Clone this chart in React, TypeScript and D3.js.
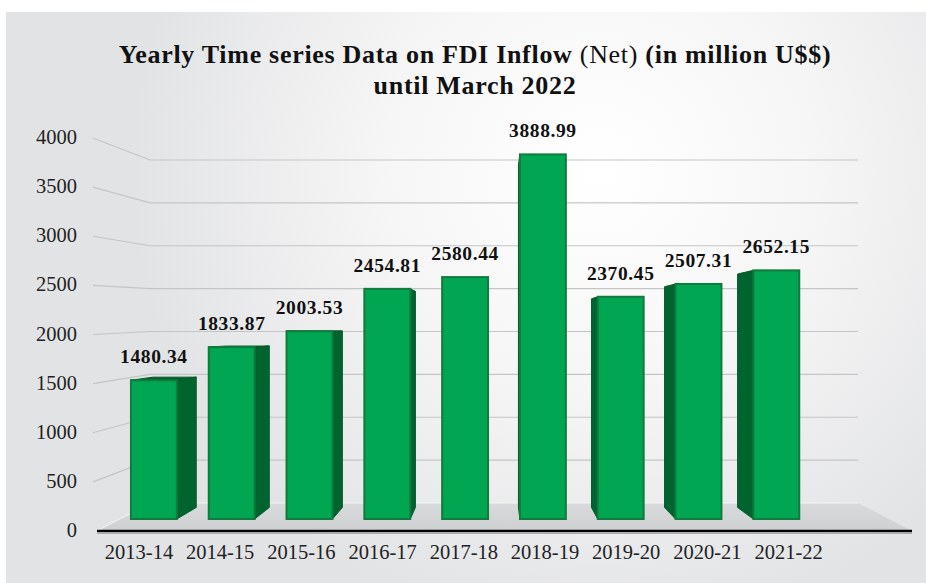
import React from "react";
import * as d3 from "d3";

const categories = ["2013-14", "2014-15", "2015-16", "2016-17", "2017-18", "2018-19", "2019-20", "2020-21", "2021-22"];
const values = [1480.34, 1833.87, 2003.53, 2454.81, 2580.44, 3888.99, 2370.45, 2507.31, 2652.15];
const yTicks = [0, 500, 1000, 1500, 2000, 2500, 3000, 3500, 4000];
const titleLine1Bold1 = "Yearly Time series Data on FDI Inflow ";
const titleLine1Regular = "(Net) ";
const titleLine1Bold2 = "(in million U$$)";
const titleLine2 = "until March 2022";

const W = 926;
const H = 583;
const FONT = "'Liberation Serif', 'Times New Roman', serif";

export default function App() {
  // front plane (axis labels), back wall, and bar front plane
  const yFront = d3.scaleLinear().domain([0, 4000]).range([531, 138]);
  const yBack = d3.scaleLinear().domain([0, 4000]).range([503, 160]);
  const yBar = d3.scaleLinear().domain([0, 4000]).range([519, 144]);
  const xBar = d3.scaleBand<string>().domain(categories).range([115, 815.2]).paddingInner(0.41).paddingOuter(0.205);
  const xLabel = d3.scaleBand<string>().domain(categories).range([98.4, 829.2]);

  const wallLeft = 150;
  const wallRight = 858;
  const axisLeft = 93;
  const V = { x: 495, y: 330 };
  const r = 0.939;
  const back = (x: number, y: number): [number, number] => [V.x + r * (x - V.x), V.y + r * (y - V.y)];
  const poly = (pts: [number, number][]) => pts.map((p) => p.join(",")).join(" ");

  return (
    <svg width={W} height={H} style={{ position: "absolute", left: 0, top: 0 }}>
      <defs>
        <radialGradient id="bg" gradientUnits="userSpaceOnUse" cx={600} cy={170} r={470} fx={600} fy={170}>
          <stop offset="0" stopColor="#ffffff" />
          <stop offset="0.45" stopColor="#f6f6f6" />
          <stop offset="1" stopColor="#e2e3e5" />
        </radialGradient>
        <linearGradient id="floor" x1="0" y1="0" x2="0" y2="1">
          <stop offset="0" stopColor="#d9dadc" />
          <stop offset="1" stopColor="#cfd0d2" />
        </linearGradient>
      </defs>
      <rect x={0} y={0} width={W} height={H} fill="#ffffff" />
      <rect x={6} y={12} width={W - 6} height={H - 12} fill="url(#bg)" />

      {/* title */}
      <text x={475} y={63} textAnchor="middle" fontFamily={FONT} fontSize={26} letterSpacing={0.7} fill="#111">
        <tspan fontWeight="bold">{titleLine1Bold1}</tspan>
        <tspan fontWeight="normal">{titleLine1Regular}</tspan>
        <tspan fontWeight="bold">{titleLine1Bold2}</tspan>
      </text>
      <text x={475} y={94} textAnchor="middle" fontFamily={FONT} fontSize={26} letterSpacing={0.7} fontWeight="bold" fill="#111">
        {titleLine2}
      </text>

      {/* gridlines */}
      {yTicks.filter((t) => t > 0).map((t) => (
        <polyline
          key={"g" + t}
          points={poly([[axisLeft, yFront(t)], [wallLeft, yBack(t)], [wallRight, yBack(t)]])}
          fill="none"
          stroke="#c4c5c7"
          strokeWidth={1.2}
        />
      ))}

      {/* floor */}
      <polygon
        points={poly([[wallLeft, yBack(0)], [wallRight, yBack(0)], [912, yFront(0)], [97, yFront(0)]])}
        fill="url(#floor)"
      />
      <line x1={wallLeft} x2={wallRight} y1={yBack(0)} y2={yBack(0)} stroke="#f4f4f4" strokeWidth={1} />
      <line x1={97} x2={wallLeft} y1={yFront(0)} y2={yBack(0)} stroke="#f4f4f4" strokeWidth={1} />
      <line x1={97} x2={912} y1={yFront(0) + 2.5} y2={yFront(0) + 2.5} stroke="#a9aaac" strokeWidth={1} />
      <line x1={97} x2={912} y1={yFront(0)} y2={yFront(0)} stroke="#000" strokeWidth={2.6} />

      {/* y tick labels */}
      {yTicks.map((t) => (
        <text key={"y" + t} x={77} y={yFront(t) + 6} textAnchor="end" fontFamily={FONT} fontSize={20.5} fill="#222">
          {t}
        </text>
      ))}

      {/* bars */}
      {categories.map((c, i) => {
        const v = values[i];
        const x0 = xBar(c)!;
        const x1 = x0 + xBar.bandwidth();
        const yT = yBar(v);
        const yB = yBar(0);
        const pieces: JSX.Element[] = [];
        if (x1 < V.x) {
          pieces.push(
            <polygon key="s" points={poly([[x1, yT], back(x1, yT), back(x1, yB), [x1, yB]])} fill="#00642f" stroke="#0a5a2c" strokeWidth={1} />
          );
        } else if (x0 > V.x) {
          pieces.push(
            <polygon key="s" points={poly([[x0, yT], back(x0, yT), back(x0, yB), [x0, yB]])} fill="#00642f" stroke="#0a5a2c" strokeWidth={1} />
          );
        }
        if (yT > V.y) {
          pieces.push(
            <polygon key="t" points={poly([[x0, yT], [x1, yT], back(x1, yT), back(x0, yT)])} fill="#005c2b" stroke="#0a5a2c" strokeWidth={1} />
          );
        }
        pieces.push(
          <rect key="f" x={x0} y={yT} width={x1 - x0} height={yB - yT} fill="#00a651" stroke="#117a3e" strokeWidth={2} />
        );
        pieces.push(
          <text
            key="l"
            x={(x0 + x1) / 2}
            y={yT - 17}
            textAnchor="middle"
            fontFamily={FONT}
            fontSize={19.5}
            fontWeight="bold"
            letterSpacing={0.6}
            fill="#111"
          >
            {v.toFixed(2)}
          </text>
        );
        return <g key={c}>{pieces}</g>;
      })}

      {/* x labels */}
      {categories.map((c) => (
        <text
          key={"x" + c}
          x={xLabel(c)! + xLabel.bandwidth() / 2}
          y={559}
          textAnchor="middle"
          fontFamily={FONT}
          fontSize={20.5}
          fill="#222"
        >
          {c}
        </text>
      ))}
    </svg>
  );
}
